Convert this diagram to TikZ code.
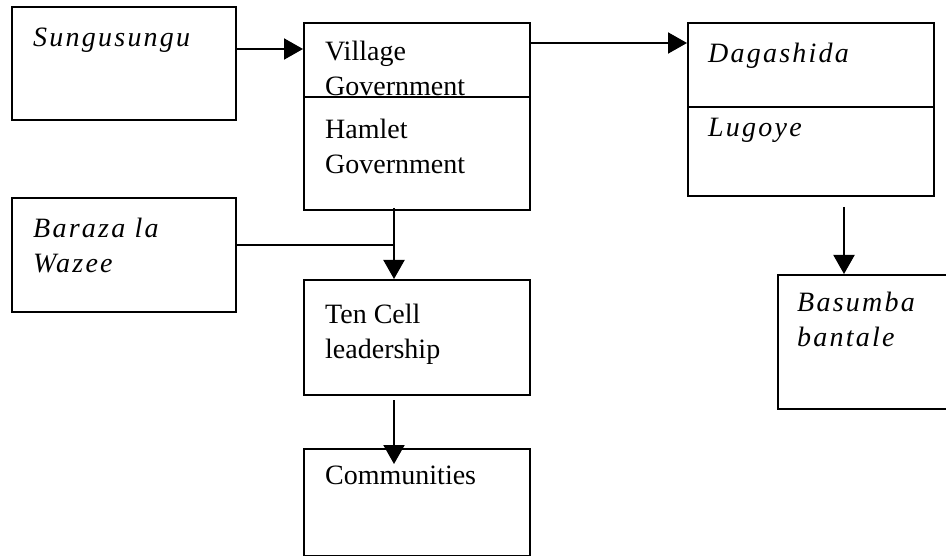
\documentclass[tikz,border=0pt]{standalone}
\usepackage{fontspec}
\setmainfont{Liberation Serif}
\newfontface\kiswahili{Liberation Serif Italic}[LetterSpace=8]
\usetikzlibrary{arrows.meta,positioning}

\begin{document}
\begin{tikzpicture}[
    x=1pt, y=-1pt,
    frame/.style={rectangle, draw=black, line width=2pt, inner sep=0pt, anchor=north west},
    entry/.style={inner sep=0pt, align=left, font=\fontsize{28}{35}\selectfont},
    localentry/.style={entry, font=\kiswahili\fontsize{28}{35}\selectfont},
    arrow/.style={-{Triangle[length=19pt, width=21pt]}, line width=2pt},
    link/.style={line width=2pt},
]
\useasboundingbox (0,0) rectangle (946,556);

% Boxes
\node[frame, minimum width=224pt, minimum height=113pt] (sungu) at (11,6) {};
\node[frame, minimum width=226pt, minimum height=74pt] (village) at (303,22) {};
\node[frame, minimum width=226pt, minimum height=113pt] (hamlet) at (303,96) {};
\node[frame, minimum width=246pt, minimum height=84pt] (dagashida) at (687,22) {};
\node[frame, minimum width=246pt, minimum height=89pt] (lugoye) at (687,106) {};
\node[frame, minimum width=224pt, minimum height=114pt] (baraza) at (11,197) {};
\node[frame, minimum width=226pt, minimum height=115pt] (tencell) at (303,279) {};
\node[frame, minimum width=226pt, minimum height=107pt] (communities) at (303,448) {};
\node[frame, minimum width=175pt, minimum height=134pt] (basumba) at (777,274) {};

% Texts
\node[localentry, below right=22pt and 22pt of sungu.north west] (sungutext) {Sungusungu};
\node[entry, below right=19pt and 22pt of village.north west] (villagetext) {Village\\Government};
\node[entry, below right=23pt and 22pt of hamlet.north west] (hamlettext) {Hamlet\\Government};
\node[localentry, below right=21pt and 21pt of dagashida.north west] (dagashidatext) {Dagashida};
\node[localentry, below right=12pt and 21pt of lugoye.north west] (lugoyetext) {Lugoye};
\node[localentry, below right=21pt and 22pt of baraza.north west] (barazatext) {Baraza la\\Wazee};
\node[entry, below right=25pt and 22pt of tencell.north west] (tencelltext) {Ten Cell\\leadership};
\node[entry, below right=18pt and 22pt of communities.north west] (communitiestext) {Communities};
\node[localentry, below right=18pt and 20pt of basumba.north west] (basumbatext) {Basumba\\bantale};

% Connectors
\coordinate (hamletdrop) at ([xshift=-23pt, yshift=3pt]hamlet.south);
\coordinate (lugoyedrop) at ([xshift=33pt, yshift=-10pt]lugoye.south);

\draw[arrow] ([yshift=14.5pt]sungu.east) -- ([yshift=14.5pt]sungu.east -| village.west);
\draw[arrow] ([yshift=17pt]village.east) -- ([yshift=17pt]village.east -| dagashida.west);
\draw[arrow] (lugoyedrop) -- (lugoyedrop |- basumba.north);
\draw[arrow] (hamletdrop) -- (hamletdrop |- tencell.north);
\draw[link] ([yshift=10pt]baraza.east) -- ([yshift=10pt]baraza.east -| hamletdrop);
\draw[arrow] ([xshift=-23pt, yshift=-4pt]tencell.south) -- ([xshift=-23pt, yshift=-16pt]communities.north);

\end{tikzpicture}
\end{document}
